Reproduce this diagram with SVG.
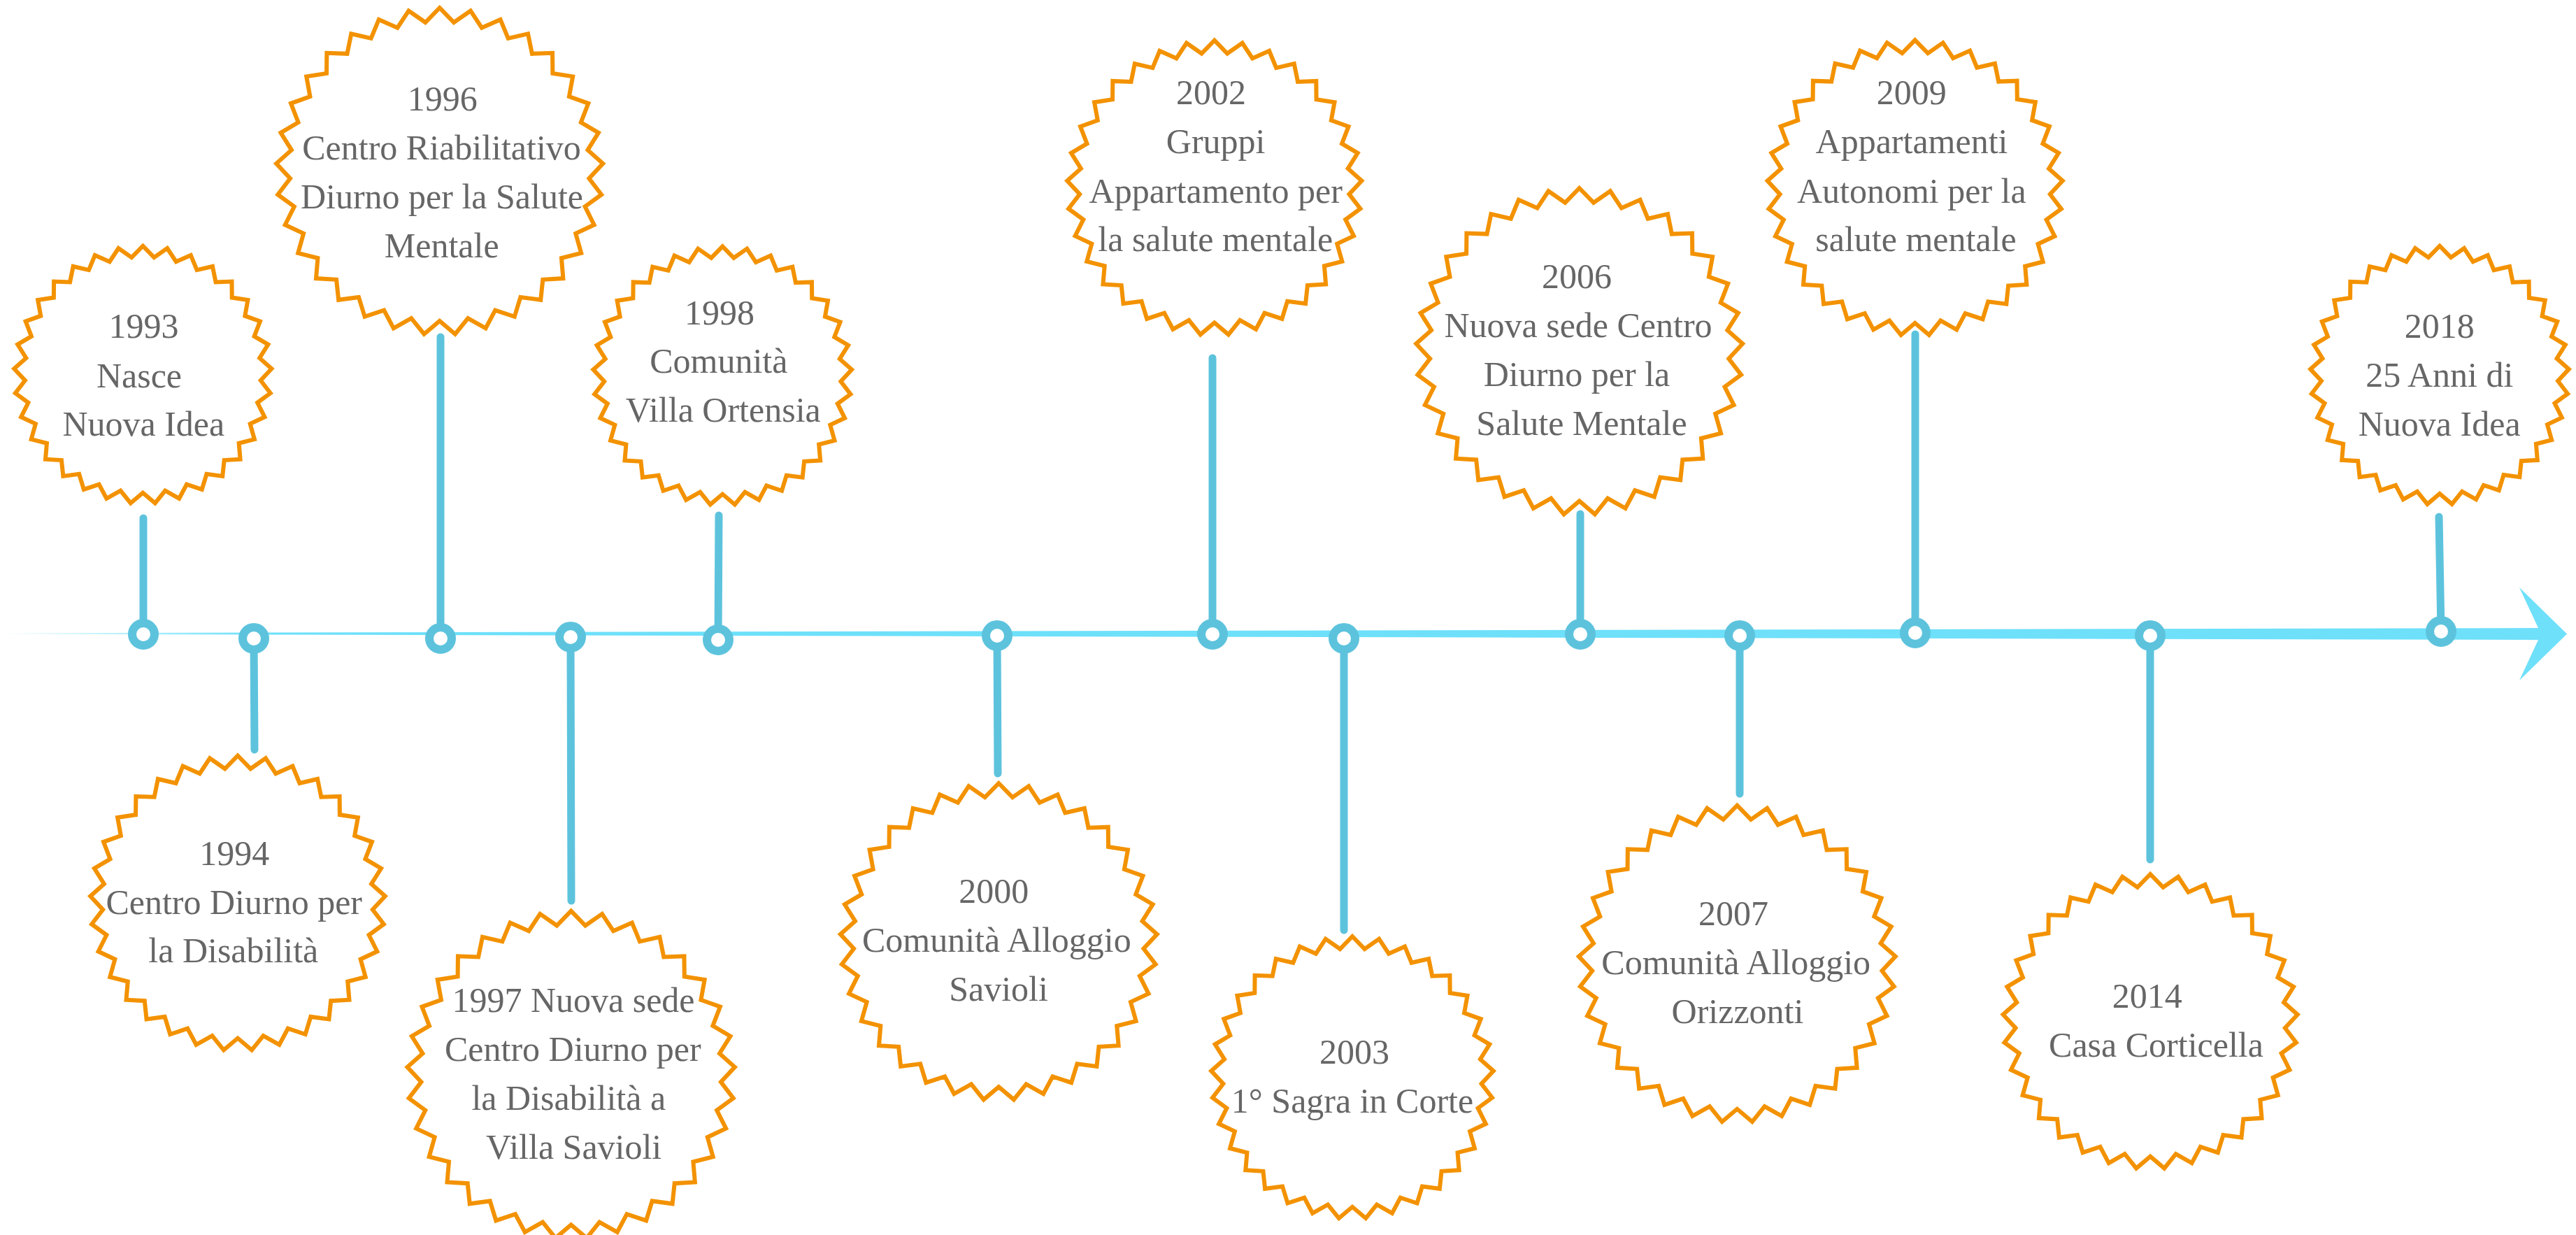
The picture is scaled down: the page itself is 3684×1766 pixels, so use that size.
<svg xmlns="http://www.w3.org/2000/svg" xmlns:xlink="http://www.w3.org/1999/xlink" width="3684" height="1766" viewBox="0 0 3684 1766">
<style>
.burst{fill:#ffffff;stroke:#F39200;stroke-linejoin:miter;stroke-miterlimit:10}
.t{font-family:"Liberation Serif","Times New Roman",serif;font-size:50px;fill:#666666;text-anchor:middle}
.conn{stroke:#5DC3DD;stroke-width:11;stroke-linecap:round;fill:none}
.dot{fill:#ffffff;stroke:#5DC3DD;stroke-width:12}
</style>
<defs>
<path id="star" d="M0,-100 L8.70,-91.09 L18.93,-98.19 L25.78,-87.79 L37.17,-92.84 L41.93,-81.33 L54.06,-84.13 L56.56,-71.92 L69.01,-72.37 L69.15,-59.92 L81.46,-58.01 L79.24,-45.75 L90.96,-41.54 L86.47,-29.93 L97.18,-23.58 L90.57,-13.02 L99.89,-4.76 L91.40,4.35 L98.98,14.23 L88.92,21.57 L94.50,32.71 L83.23,38.01 L86.60,50 L74.53,53.07 L75.58,65.49 L63.14,66.22 L61.82,78.61 L49.47,76.97 L45.82,88.88 L34.01,84.95 L28.17,95.95 L17.32,89.85 L9.51,99.55 L0,91.5 L-9.51,99.55 L-17.32,89.85 L-28.17,95.95 L-34.01,84.95 L-45.82,88.88 L-49.47,76.97 L-61.82,78.61 L-63.14,66.22 L-75.58,65.49 L-74.53,53.07 L-86.60,50 L-83.23,38.01 L-94.50,32.71 L-88.92,21.57 L-98.98,14.23 L-91.40,4.35 L-99.89,-4.76 L-90.57,-13.02 L-97.18,-23.58 L-86.47,-29.93 L-90.96,-41.54 L-79.24,-45.75 L-81.46,-58.01 L-69.15,-59.92 L-69.01,-72.37 L-56.56,-71.92 L-54.06,-84.13 L-41.93,-81.33 L-37.17,-92.84 L-25.78,-87.79 L-18.93,-98.19 L-8.70,-91.09 Z"/>
<linearGradient id="axisGrad" gradientUnits="userSpaceOnUse" x1="0" y1="0" x2="3640" y2="0">
<stop offset="0" stop-color="#6EE0FA" stop-opacity="0"/>
<stop offset="0.1" stop-color="#6EE0FA" stop-opacity="1"/>
<stop offset="1" stop-color="#6EE0FA" stop-opacity="1"/>
</linearGradient>
</defs>
<rect x="0" y="0" width="3684" height="1766" fill="#ffffff"/>
<g id="axis">
<polygon points="0,905.3 3640,898 3640,915 0,906.7" fill="url(#axisGrad)"/>
<polygon points="3603,840 3671,906.5 3603,973 3634,906.5" fill="#6EE0FA"/>
</g>
<g id="connectors">
<line class="conn" x1="205" y1="741" x2="205" y2="907"/>
<line class="conn" x1="363" y1="914" x2="364" y2="1072"/>
<line class="conn" x1="630" y1="482" x2="630" y2="914"/>
<line class="conn" x1="816" y1="912" x2="817" y2="1288"/>
<line class="conn" x1="1028" y1="737" x2="1027" y2="916"/>
<line class="conn" x1="1426" y1="909" x2="1427" y2="1106"/>
<line class="conn" x1="1734" y1="512" x2="1734" y2="907"/>
<line class="conn" x1="1922" y1="914" x2="1922" y2="1330"/>
<line class="conn" x1="2260" y1="735" x2="2260" y2="907"/>
<line class="conn" x1="2488" y1="909" x2="2488" y2="1135"/>
<line class="conn" x1="2739" y1="478" x2="2739" y2="905"/>
<line class="conn" x1="3075" y1="909" x2="3075" y2="1229"/>
<line class="conn" x1="3488" y1="739" x2="3491" y2="902"/>
<circle class="dot" cx="205" cy="907" r="16"/>
<circle class="dot" cx="363" cy="913" r="16"/>
<circle class="dot" cx="630" cy="913" r="16"/>
<circle class="dot" cx="816" cy="911" r="16"/>
<circle class="dot" cx="1027" cy="915" r="16"/>
<circle class="dot" cx="1426" cy="909" r="16"/>
<circle class="dot" cx="1734" cy="907" r="16"/>
<circle class="dot" cx="1922" cy="913" r="16"/>
<circle class="dot" cx="2260" cy="907" r="16"/>
<circle class="dot" cx="2488" cy="909" r="16"/>
<circle class="dot" cx="2739" cy="905" r="16"/>
<circle class="dot" cx="3075" cy="909" r="16"/>
<circle class="dot" cx="3491" cy="903" r="16"/>
</g>
<g id="node-1993">
<use xlink:href="#star" href="#star" class="burst" transform="translate(204.3,536) scale(1.843)" stroke-width="3.26"/>
<text class="t" x="205.5" y="483">1993</text>
<text class="t" x="199" y="554">Nasce</text>
<text class="t" x="205.3" y="623">Nuova Idea</text>
</g>
<g id="node-1994">
<use xlink:href="#star" href="#star" class="burst" transform="translate(340,1291.5) scale(2.11)" stroke-width="2.85"/>
<text class="t" x="335.3" y="1236.7">1994</text>
<text class="t" x="334.7" y="1306.7">Centro Diurno per</text>
<text class="t" x="333.8" y="1376">la Disabilità</text>
</g>
<g id="node-1996">
<use xlink:href="#star" href="#star" class="burst" transform="translate(628.7,245) scale(2.338)" stroke-width="2.57"/>
<text class="t" x="632.8" y="158.3">1996</text>
<text class="t" x="631.5" y="228.3">Centro Riabilitativo</text>
<text class="t" x="632" y="298.3">Diurno per la Salute</text>
<text class="t" x="631.7" y="368.3">Mentale</text>
</g>
<g id="node-1997">
<use xlink:href="#star" href="#star" class="burst" transform="translate(816.7,1537) scale(2.344)" stroke-width="2.56"/>
<text class="t" x="820" y="1447.3">1997 Nuova sede</text>
<text class="t" x="819.3" y="1517.3">Centro Diurno per</text>
<text class="t" x="813.3" y="1586.7">la Disabilità a</text>
<text class="t" x="820.7" y="1656.7">Villa Savioli</text>
</g>
<g id="node-1998">
<use xlink:href="#star" href="#star" class="burst" transform="translate(1033.3,537.3) scale(1.85)" stroke-width="3.24"/>
<text class="t" x="1029" y="464">1998</text>
<text class="t" x="1027.8" y="533.3">Comunità</text>
<text class="t" x="1034.3" y="603.3">Villa Ortensia</text>
</g>
<g id="node-2000">
<use xlink:href="#star" href="#star" class="burst" transform="translate(1428.3,1346.7) scale(2.267)" stroke-width="2.65"/>
<text class="t" x="1421.3" y="1291">2000</text>
<text class="t" x="1425.3" y="1360.7">Comunità Alloggio</text>
<text class="t" x="1428" y="1430.7">Savioli</text>
</g>
<g id="node-2002">
<use xlink:href="#star" href="#star" class="burst" transform="translate(1736.8,268.5) scale(2.108)" stroke-width="2.85"/>
<text class="t" x="1732" y="149.3">2002</text>
<text class="t" x="1738.7" y="219.3">Gruppi</text>
<text class="t" x="1738.8" y="290">Appartamento per</text>
<text class="t" x="1738.3" y="359.3">la salute mentale</text>
</g>
<g id="node-2003">
<use xlink:href="#star" href="#star" class="burst" transform="translate(1934,1541) scale(2.02)" stroke-width="2.97"/>
<text class="t" x="1937" y="1521">2003</text>
<text class="t" x="1934" y="1591">1° Sagra in Corte</text>
</g>
<g id="node-2006">
<use xlink:href="#star" href="#star" class="burst" transform="translate(2258.7,502.7) scale(2.337)" stroke-width="2.57"/>
<text class="t" x="2255" y="412.3">2006</text>
<text class="t" x="2257" y="482.3">Nuova sede Centro</text>
<text class="t" x="2255" y="551.7">Diurno per la</text>
<text class="t" x="2262" y="621.7">Salute Mentale</text>
</g>
<g id="node-2007">
<use xlink:href="#star" href="#star" class="burst" transform="translate(2484.3,1378.4) scale(2.267)" stroke-width="2.65"/>
<text class="t" x="2479" y="1322.7">2007</text>
<text class="t" x="2482.7" y="1392.7">Comunità Alloggio</text>
<text class="t" x="2485" y="1462.7">Orizzonti</text>
</g>
<g id="node-2009">
<use xlink:href="#star" href="#star" class="burst" transform="translate(2738.7,268.6) scale(2.113)" stroke-width="2.85"/>
<text class="t" x="2733.8" y="149.3">2009</text>
<text class="t" x="2734" y="219.3">Appartamenti</text>
<text class="t" x="2733.8" y="290">Autonomi per la</text>
<text class="t" x="2740" y="359.3">salute mentale</text>
</g>
<g id="node-2014">
<use xlink:href="#star" href="#star" class="burst" transform="translate(3075.2,1460.8) scale(2.108)" stroke-width="2.85"/>
<text class="t" x="3070.8" y="1441">2014</text>
<text class="t" x="3083.5" y="1510.7">Casa Corticella</text>
</g>
<g id="node-2018">
<use xlink:href="#star" href="#star" class="burst" transform="translate(3489,536.7) scale(1.85)" stroke-width="3.24"/>
<text class="t" x="3488.7" y="483.4">2018</text>
<text class="t" x="3488.8" y="553.4">25 Anni di</text>
<text class="t" x="3488.7" y="622.6">Nuova Idea</text>
</g>
</svg>
